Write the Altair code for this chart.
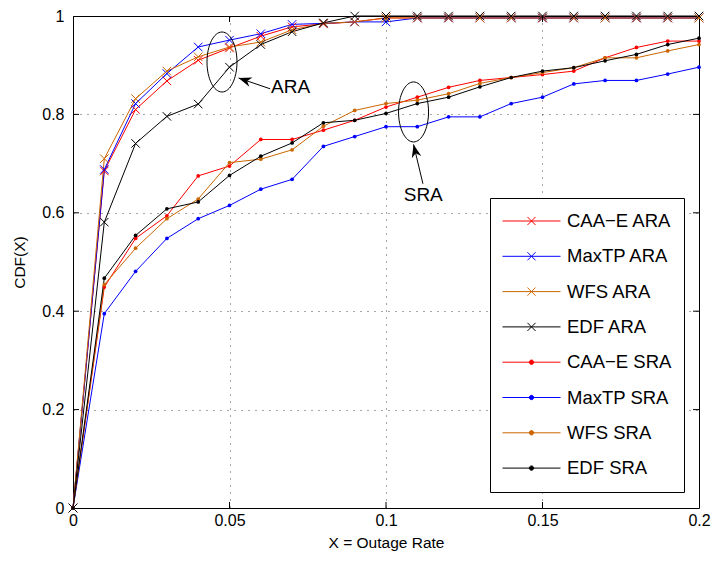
import math

import altair as alt
import pandas as pd

FONT = "Liberation Sans"

# ---------------------------------------------------------------- data
OUTAGE_RATE = [0.0, 0.01, 0.02, 0.03, 0.04, 0.05, 0.06, 0.07, 0.08, 0.09, 0.10,
               0.11, 0.12, 0.13, 0.14, 0.15, 0.16, 0.17, 0.18, 0.19, 0.20]

SERIES = ["CAA−E ARA", "MaxTP ARA", "WFS ARA", "EDF ARA",
          "CAA−E SRA", "MaxTP SRA", "WFS SRA", "EDF SRA"]
SERIES_COLORS = ["#ff0000", "#0000ff", "#cc6600", "#000000",
                 "#ff0000", "#0000ff", "#cc6600", "#000000"]

CAA_E_ARA = [0.0, 0.685, 0.810, 0.868, 0.910, 0.935, 0.959, 0.978, 0.984, 0.988, 0.996,
             0.996, 0.996, 0.996, 0.996, 0.996, 0.996, 0.996, 0.996, 0.996, 0.996]
MAXTP_ARA = [0.0, 0.688, 0.822, 0.883, 0.937, 0.951, 0.964, 0.983, 0.985, 0.988, 0.988,
             0.996, 0.996, 0.996, 0.996, 0.996, 0.996, 0.996, 0.996, 0.996, 0.996]
WFS_ARA = [0.0, 0.710, 0.832, 0.888, 0.917, 0.937, 0.947, 0.972, 0.985, 0.988, 0.996,
           0.996, 0.996, 0.996, 0.996, 0.996, 0.996, 0.996, 0.996, 0.996, 0.996]
EDF_ARA = [0.0, 0.581, 0.741, 0.796, 0.821, 0.896, 0.942, 0.968, 0.986, 1.0, 1.0,
           1.0, 1.0, 1.0, 1.0, 1.0, 1.0, 1.0, 1.0, 1.0, 1.0]

CAA_E_SRA = [0.0, 0.449, 0.548, 0.594, 0.675, 0.695, 0.749, 0.749, 0.768, 0.788, 0.815,
             0.835, 0.855, 0.869, 0.875, 0.881, 0.888, 0.915, 0.936, 0.949, 0.949]
MAXTP_SRA = [0.0, 0.395, 0.481, 0.548, 0.588, 0.615, 0.648, 0.668, 0.735, 0.755, 0.775,
             0.775, 0.795, 0.795, 0.822, 0.835, 0.862, 0.869, 0.869, 0.882, 0.896]
WFS_SRA = [0.0, 0.454, 0.528, 0.588, 0.628, 0.702, 0.709, 0.728, 0.776, 0.808, 0.822,
           0.829, 0.842, 0.863, 0.875, 0.885, 0.895, 0.915, 0.915, 0.929, 0.942]
EDF_SRA = [0.0, 0.467, 0.554, 0.608, 0.622, 0.676, 0.715, 0.742, 0.783, 0.788, 0.802,
           0.822, 0.835, 0.856, 0.875, 0.888, 0.895, 0.909, 0.922, 0.942, 0.955]

SERIES_VALUES = [CAA_E_ARA, MAXTP_ARA, WFS_ARA, EDF_ARA,
                 CAA_E_SRA, MAXTP_SRA, WFS_SRA, EDF_SRA]

X_TICKS = [0, 0.05, 0.1, 0.15, 0.2]
Y_TICKS = [0, 0.2, 0.4, 0.6, 0.8, 1]
X_INNER_TICKS = [0.05, 0.1, 0.15]
Y_INNER_TICKS = [0.2, 0.4, 0.6, 0.8]

# callouts: ellipse around each group, arrow and its label
CALLOUT_TEXT = ["ARA", "SRA"]
ELLIPSE_X = [0.0476, 0.1088]
ELLIPSE_Y = [0.9065, 0.805]
ARROW_TAIL_X = [0.0630, 0.1118]
ARROW_TAIL_Y = [0.852, 0.659]
ARROW_TIP_X = [0.0529, 0.1088]
ARROW_TIP_Y = [0.874, 0.739]
LABEL_X = [0.0695, 0.1119]
LABEL_Y = [0.856, 0.637]

# ---------------------------------------------------------------- layout
W, H = 626, 492
X_MAX, Y_MAX = 0.2, 1.0
TICK_PX = 6

rows = []
for name, values in zip(SERIES, SERIES_VALUES):
    for xv, yv in zip(OUTAGE_RATE, values):
        rows.append({"x": xv, "y": yv, "series": name})
df = pd.DataFrame(rows)

x_scale = alt.Scale(domain=[0, X_MAX], nice=False, zero=False)
y_scale = alt.Scale(domain=[0, Y_MAX], nice=False, zero=False)

x_enc = alt.X("x:Q", scale=x_scale, axis=alt.Axis(
    values=X_TICKS, format="~g", title="X = Outage Rate",
    labelFlush=False, labelOverlap=False, labelPadding=4, titlePadding=7))
y_enc = alt.Y("y:Q", scale=y_scale, axis=alt.Axis(
    values=Y_TICKS, format="~g", title="CDF(X)",
    labelFlush=False, labelOverlap=False, labelPadding=9, titlePadding=14))

# legend symbols: a short line with the series marker on it
ARA_KEY = "M-1,0H1M-0.14,-0.14L0.14,0.14M-0.14,0.14L0.14,-0.14"
SRA_KEY = "M-1,0H1M-0.075,0A0.075,0.075 0 1,1 0.075,0A0.075,0.075 0 1,1 -0.075,0Z"
key_expr = f"indexof(datum.value, 'ARA') >= 0 ? '{ARA_KEY}' : '{SRA_KEY}'"

legend = alt.Legend(
    title=None, orient="none", legendX=417, legendY=182,
    fillColor="white", strokeColor="black", padding=12, cornerRadius=0,
    labelFont=FONT, labelFontSize=18.5, labelColor="black", labelOffset=6, labelLimit=400,
    symbolSize=3364, symbolStrokeWidth=1, clipHeight=22, rowPadding=13.3,
    symbolType=alt.ExprRef(key_expr),
    symbolFillColor=alt.ExprRef("scale('color', datum.value)"),
)

color_scale = alt.Scale(domain=SERIES, range=SERIES_COLORS)

lines = alt.Chart(df).mark_line(strokeWidth=1).encode(
    x=x_enc, y=y_enc,
    color=alt.Color("series:N", scale=color_scale, legend=legend, sort=SERIES),
)

CROSS = "M-1,-1L1,1M-1,1L1,-1"
ara_points = alt.Chart(df).transform_filter(
    "indexof(datum.series, 'ARA') >= 0"
).mark_point(shape=CROSS, size=72, filled=False, strokeWidth=1, opacity=1).encode(
    x="x:Q", y="y:Q",
    color=alt.Color("series:N", scale=color_scale, legend=None),
)
sra_points = alt.Chart(df).transform_filter(
    "indexof(datum.series, 'SRA') >= 0"
).mark_point(shape="circle", size=14, filled=True, opacity=1).encode(
    x="x:Q", y="y:Q",
    color=alt.Color("series:N", scale=color_scale, legend=None),
)

# inward tick marks on all four sides of the box
tx = TICK_PX / H * Y_MAX
ty = TICK_PX / W * X_MAX
xt_df = pd.DataFrame({"x": X_INNER_TICKS})
yt_df = pd.DataFrame({"y": Y_INNER_TICKS})
tick_style = dict(color="black", strokeWidth=1)
ticks = [
    alt.Chart(xt_df).mark_rule(**tick_style).encode(x="x:Q", y=alt.datum(0), y2=alt.datum(tx)),
    alt.Chart(xt_df).mark_rule(**tick_style).encode(x="x:Q", y=alt.datum(Y_MAX), y2=alt.datum(Y_MAX - tx)),
    alt.Chart(yt_df).mark_rule(**tick_style).encode(y="y:Q", x=alt.datum(0), x2=alt.datum(ty)),
    alt.Chart(yt_df).mark_rule(**tick_style).encode(y="y:Q", x=alt.datum(X_MAX), x2=alt.datum(X_MAX - ty)),
]

# callouts
ELLIPSE = "M-0.5,0A0.5,1 0 1,0 0.5,0A0.5,1 0 1,0 -0.5,0Z"
ARROW_HEAD = "M0,0L-2,-0.75L-1.4,0L-2,0.75Z"

angles = []
for x0, y0, x1, y1 in zip(ARROW_TAIL_X, ARROW_TAIL_Y, ARROW_TIP_X, ARROW_TIP_Y):
    dx = (x1 - x0) / X_MAX * W
    dy = -(y1 - y0) / Y_MAX * H
    angles.append(math.degrees(math.atan2(dy, dx)) % 360)

ell_df = pd.DataFrame({"x": ELLIPSE_X, "y": ELLIPSE_Y})
arrow_df = pd.DataFrame({"x": ARROW_TAIL_X, "y": ARROW_TAIL_Y,
                         "x2": ARROW_TIP_X, "y2": ARROW_TIP_Y})
head_df = pd.DataFrame({"x": ARROW_TIP_X, "y": ARROW_TIP_Y, "angle": angles})
text_df = pd.DataFrame({"x": LABEL_X, "y": LABEL_Y, "label": CALLOUT_TEXT})

ellipses = alt.Chart(ell_df).mark_point(
    shape=ELLIPSE, size=3600, filled=False, color="black", strokeWidth=1, opacity=1
).encode(x="x:Q", y="y:Q")
arrow_lines = alt.Chart(arrow_df).mark_rule(color="black", strokeWidth=1).encode(
    x="x:Q", y="y:Q", x2="x2:Q", y2="y2:Q")
arrow_heads = alt.Chart(head_df).mark_point(
    shape=ARROW_HEAD, size=169, filled=True, color="black", opacity=1
).encode(x="x:Q", y="y:Q", angle=alt.Angle("angle:Q", scale=None))
callout_text = alt.Chart(text_df).mark_text(
    font=FONT, fontSize=19, color="black", align="center", baseline="middle"
).encode(x="x:Q", y="y:Q", text="label:N")

chart = alt.layer(
    lines, ara_points, sra_points, *ticks,
    ellipses, arrow_lines, arrow_heads, callout_text,
).properties(
    width=W, height=H,
    autosize=alt.AutoSizeParams(type="none"),
    padding={"left": 73, "top": 16, "right": 13, "bottom": 53},
    background="white",
).configure_view(
    stroke="black", strokeWidth=1,
).configure_axis(
    grid=True, gridColor="#000000", gridDash=[1, 6], gridOpacity=0.7, gridWidth=1,
    domain=False, ticks=False,
    labelFont=FONT, labelFontSize=16, labelColor="black",
    titleFont=FONT, titleFontSize=15.5, titleFontWeight="normal", titleColor="black",
)

chart.save("out.html", embed_options={"renderer": "svg", "actions": False})
